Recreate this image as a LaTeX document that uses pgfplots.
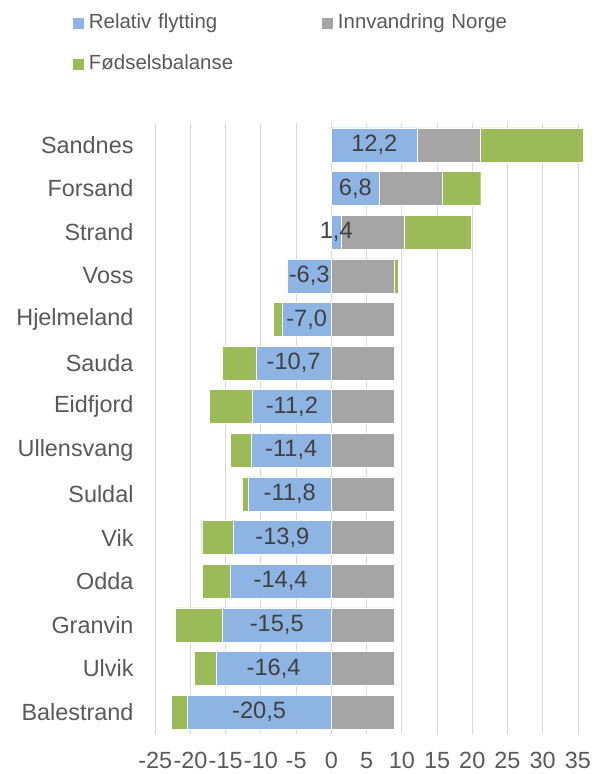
\documentclass[border=0pt]{standalone}
\usepackage{pgfplots}
\pgfplotsset{compat=1.18}
\usepackage{pgfplotstable}
\usepackage{fontspec}
\setmainfont{Liberation Sans}
\definecolor{cblue}{HTML}{8EB4E3}
\definecolor{cgray}{HTML}{A5A5A5}
\definecolor{cgreen}{HTML}{9BBB59}
\definecolor{ctext}{HTML}{595959}
\definecolor{clabel}{HTML}{404040}
\definecolor{cgrid}{HTML}{D9D9D9}

% y: category index (0 = Sandnes at top)
\pgfplotstableread{
y  blue  bluepos gray greenpos greenneg
0  12.2  12.2    8.9  14.6     0
1  6.8   6.8     8.9  5.5      0
2  1.4   1.4     8.9  9.5      0
3  -6.3  0       8.9  0.6      0
4  -7.0  0       8.9  0        -1.2
5  -10.7 0       8.9  0        -4.8
6  -11.2 0       8.9  0        -6.1
7  -11.4 0       8.9  0        -2.9
8  -11.8 0       8.9  0        -0.9
9  -13.9 0       8.9  0        -4.5
10 -14.4 0       8.9  0        -3.9
11 -15.5 0       8.9  0        -6.6
12 -16.4 0       8.9  0        -3.0
13 -20.5 0       8.9  0        -2.2
}\data

\pgfplotsset{
  common/.style={
    scale only axis, width=429.8bp, height=611bp,
    at={(155.2bp,40bp)}, anchor=south west,
    xmin=-25, xmax=36, ymin=-0.5, ymax=13.5, y dir=reverse,
    xbar stacked, bar width=34bp,
  },
  sq legend/.style={legend image code/.code={\fill[##1,draw=none] (0bp,-5.5bp) rectangle (11bp,5.5bp);}},
}

\begin{document}
\begin{tikzpicture}
\path[use as bounding box] (0,0) rectangle (604bp,774bp);
\begin{axis}[common,
  xtick={-25,-20,...,35}, ytick={0,...,13},
  yticklabels={Sandnes,Forsand,Strand,Voss,Hjelmeland,Sauda,Eidfjord,Ullensvang,Suldal,Vik,Odda,Granvin,Ulvik,Balestrand},
  xmajorgrids, major grid style={cgrid, line width=0.9bp},
  axis line style={draw=none}, major tick length=0pt,
  tick label style={font=\fontsize{23.5}{27}\selectfont, text=ctext},
  xticklabel style={inner sep=0pt, anchor=north, yshift=-18bp},
  yticklabel style={inner sep=0pt, anchor=east, xshift=-21.5bp},
  /pgf/number format/assume math mode=true,
  legend columns=2, legend cell align=left,
  legend style={draw=none, fill=none, inner sep=0pt, outer sep=0pt,
    anchor=north west, at={(axis description cs:-0.1913,1.1768)},
    row sep=22.3bp, font=\fontsize{20.5}{24}\selectfont, text=ctext,
    nodes={inner sep=0pt, text height=14bp, text depth=4bp, text width=228bp, align=left},
    /tikz/every odd column/.append style={column sep=5bp},
    /tikz/every even column/.append style={column sep=5bp}},
]
\addplot[fill=cblue, draw=white, line width=0.4bp, sq legend] table[x=bluepos, y=y]{\data};
\addlegendentry{Relativ flytting}
\addplot[fill=cgray, draw=white, line width=0.4bp, sq legend] table[x=gray, y=y]{\data};
\addlegendentry{Innvandring Norge}
\addplot[fill=cgreen, draw=white, line width=0.4bp, sq legend] table[x=greenpos, y=y]{\data};
\addlegendentry{Fødselsbalanse}
\end{axis}
\begin{axis}[common, hide axis]
\addplot[fill=cblue, draw=white, line width=0.4bp,
  visualization depends on=rawx\as\rawx,
  nodes near coords={\pgfmathprintnumber[fixed,fixed zerofill,precision=1,use comma,assume math mode=true]{\rawx}},
  every node near coord/.append style={anchor=center, font=\fontsize{23.7}{27}\selectfont, text=clabel},
] table[x=blue, y=y]{\data};
\addplot[fill=cgreen, draw=white, line width=0.4bp] table[x=greenneg, y=y]{\data};
\end{axis}
\end{tikzpicture}
\end{document}
